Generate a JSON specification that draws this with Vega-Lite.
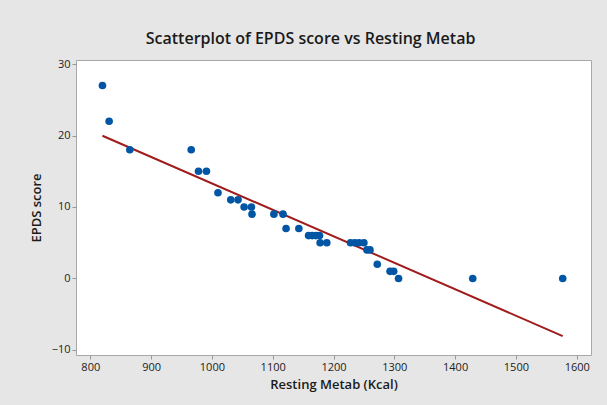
{
  "$schema": "https://vega.github.io/schema/vega-lite/v6.json",
  "width": 515,
  "height": 295,
  "autosize": {"type": "none"},
  "padding": {"left": 76, "top": 60, "right": 16, "bottom": 50},
  "background": "#e6e6e6",
  "title": {
    "text": "Scatterplot of EPDS score vs Resting Metab",
    "font": "Open Sans",
    "fontSize": 16,
    "fontWeight": 600,
    "color": "#1a1a1a",
    "anchor": "middle",
    "frame": "bounds",
    "offset": 11
  },
  "config": {
    "view": {"fill": "white", "stroke": "#a8a8a8", "strokeWidth": 1},
    "axis": {
      "labelFont": "Open Sans",
      "titleFont": "Open Sans",
      "labelFontSize": 11,
      "titleFontSize": 13,
      "titleFontWeight": 600,
      "labelColor": "#222222",
      "titleColor": "#1a1a1a",
      "domain": false,
      "grid": false,
      "tickColor": "#999999",
      "tickSize": 4
    }
  },
  "datasets": {
    "points": [
      {"metab": 820, "epds": 27},
      {"metab": 831, "epds": 22},
      {"metab": 865, "epds": 18},
      {"metab": 966, "epds": 18},
      {"metab": 978, "epds": 15},
      {"metab": 991, "epds": 15},
      {"metab": 1010, "epds": 12},
      {"metab": 1031, "epds": 11},
      {"metab": 1043, "epds": 11},
      {"metab": 1053, "epds": 10},
      {"metab": 1065, "epds": 10},
      {"metab": 1066, "epds": 9},
      {"metab": 1102, "epds": 9},
      {"metab": 1117, "epds": 9},
      {"metab": 1122, "epds": 7},
      {"metab": 1143, "epds": 7},
      {"metab": 1159, "epds": 6},
      {"metab": 1165, "epds": 6},
      {"metab": 1171, "epds": 6},
      {"metab": 1177, "epds": 6},
      {"metab": 1178, "epds": 5},
      {"metab": 1189, "epds": 5},
      {"metab": 1228, "epds": 5},
      {"metab": 1235, "epds": 5},
      {"metab": 1242, "epds": 5},
      {"metab": 1250, "epds": 5},
      {"metab": 1255, "epds": 4},
      {"metab": 1260, "epds": 4},
      {"metab": 1272, "epds": 2},
      {"metab": 1293, "epds": 1},
      {"metab": 1299, "epds": 1},
      {"metab": 1307, "epds": 0},
      {"metab": 1429, "epds": 0},
      {"metab": 1577, "epds": 0}
    ],
    "fit": [
      {"metab": 820, "epds": 19.97},
      {"metab": 1577, "epds": -8.05}
    ]
  },
  "layer": [
    {
      "data": {"name": "fit"},
      "mark": {"type": "line", "color": "#a01c1c", "strokeWidth": 2},
      "encoding": {
        "x": {"field": "metab", "type": "quantitative"},
        "y": {"field": "epds", "type": "quantitative"}
      }
    },
    {
      "data": {"name": "points"},
      "mark": {"type": "circle", "color": "#0055a5", "opacity": 1, "size": 58},
      "encoding": {
        "x": {
          "field": "metab",
          "type": "quantitative",
          "scale": {"domain": [776.5, 1623.5], "nice": false, "zero": false},
          "axis": {"values": [800, 900, 1000, 1100, 1200, 1300, 1400, 1500, 1600], "format": "d", "title": "Resting Metab (Kcal)", "titlePadding": 6, "labelPadding": 2}
        },
        "y": {
          "field": "epds",
          "type": "quantitative",
          "scale": {"domain": [-10.7, 30.56], "nice": false, "zero": false},
          "axis": {"values": [-10, 0, 10, 20, 30], "format": "d", "title": "EPDS score", "titlePadding": 8, "labelPadding": 2}
        }
      }
    }
  ]
}
